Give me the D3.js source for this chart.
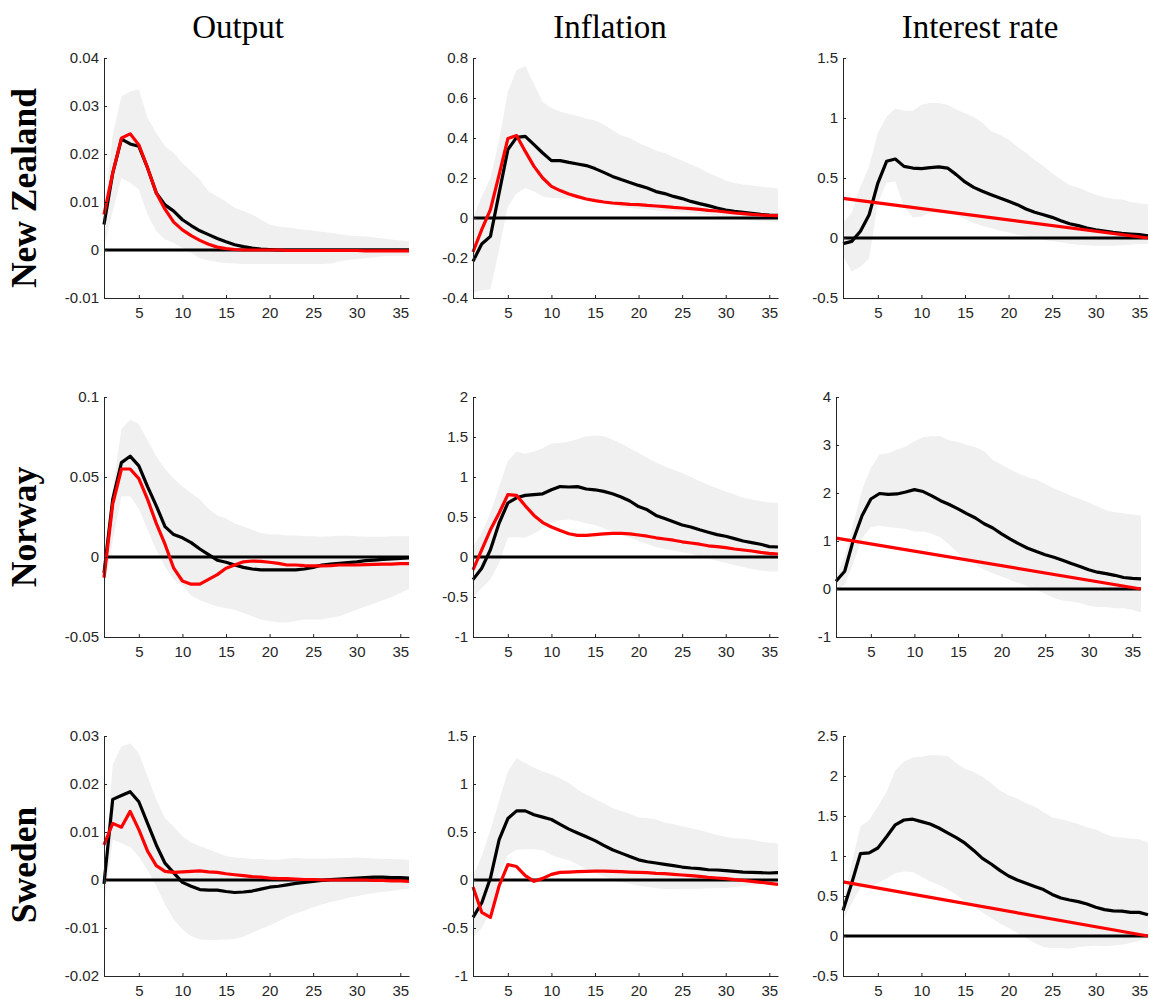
<!DOCTYPE html>
<html>
<head>
<meta charset="utf-8">
<script src="https://cdn.jsdelivr.net/npm/d3@7"></script>
<style>
  body { margin: 0; background: #fff; }
  svg { display: block; }
</style>
</head>
<body>
<div id="chart"></div>
<script>
// horizon (quarters) and labels
const periods = d3.range(1, 37);
const linePeriods = [1, 36];
const xTicks = [5, 10, 15, 20, 25, 30, 35];
const columnTitles = ["Output", "Inflation", "Interest rate"];
const rowTitles = ["New Zealand", "Norway", "Sweden"];

// y tick labels per panel
const nzOutputTicks = ["-0.01", "0", "0.01", "0.02", "0.03", "0.04"];
const nzInflationTicks = ["-0.4", "-0.2", "0", "0.2", "0.4", "0.6", "0.8"];
const nzRateTicks = ["-0.5", "0", "0.5", "1", "1.5"];
const noOutputTicks = ["-0.05", "0", "0.05", "0.1"];
const noInflationTicks = ["-1", "-0.5", "0", "0.5", "1", "1.5", "2"];
const noRateTicks = ["-1", "0", "1", "2", "3", "4"];
const seOutputTicks = ["-0.02", "-0.01", "0", "0.01", "0.02", "0.03"];
const seInflationTicks = ["-1", "-0.5", "0", "0.5", "1", "1.5"];
const seRateTicks = ["-0.5", "0", "0.5", "1", "1.5", "2", "2.5"];

// New Zealand
const nzOutputBvar = [0.0053, 0.016, 0.0231, 0.0221, 0.0216, 0.0171, 0.0119, 0.0094, 0.0081, 0.0063, 0.0051, 0.004, 0.0032, 0.0024, 0.0017, 0.0011, 0.0007, 0.0004, 0.0002, 0.0001, 0, 0, 0, 0, 0, 0, 0, 0, 0, 0, 0, 0, 0, 0, 0, 0];
const nzOutputModel = [0.0074, 0.016, 0.0233, 0.0242, 0.0219, 0.0171, 0.0119, 0.0085, 0.0058, 0.0042, 0.003, 0.002, 0.0012, 0.0006, 0.0003, 0.0001, 0, 0, 0, 0, 0, -0.0001, -0.0001, -0.0001, -0.0001, -0.0001, -0.0001, -0.0001, -0.0001, -0.0001, -0.0002, -0.0002, -0.0002, -0.0002, -0.0002, -0.0002];
const nzOutputHi = [0.007, 0.024, 0.032, 0.033, 0.0335, 0.0275, 0.0244, 0.0216, 0.0202, 0.0181, 0.0164, 0.0147, 0.0122, 0.0112, 0.0101, 0.0088, 0.0081, 0.0074, 0.0063, 0.0053, 0.0049, 0.0047, 0.0045, 0.0042, 0.004, 0.0038, 0.0036, 0.0033, 0.003, 0.0029, 0.0028, 0.0026, 0.0024, 0.0022, 0.002, 0.0019];
const nzOutputLo = [0.0005, 0.008, 0.015, 0.014, 0.0126, 0.0074, 0.0039, 0.0022, 0.0015, 0.0004, -0.0006, -0.0017, -0.0022, -0.0025, -0.0027, -0.0028, -0.0029, -0.0029, -0.0029, -0.0029, -0.0029, -0.0029, -0.0029, -0.0029, -0.0029, -0.0029, -0.0028, -0.0024, -0.0021, -0.0019, -0.0017, -0.0015, -0.0013, -0.0012, -0.0012, -0.0012];

const nzInflationBvar = [-0.217, -0.13, -0.092, 0.125, 0.342, 0.403, 0.408, 0.367, 0.325, 0.287, 0.287, 0.278, 0.27, 0.262, 0.247, 0.228, 0.208, 0.192, 0.178, 0.163, 0.15, 0.132, 0.122, 0.108, 0.097, 0.083, 0.072, 0.062, 0.05, 0.04, 0.033, 0.028, 0.023, 0.018, 0.015, 0.013];
const nzInflationModel = [-0.17, -0.058, 0.042, 0.217, 0.397, 0.412, 0.333, 0.258, 0.2, 0.158, 0.137, 0.12, 0.107, 0.095, 0.087, 0.08, 0.075, 0.072, 0.068, 0.067, 0.063, 0.06, 0.057, 0.053, 0.05, 0.047, 0.043, 0.038, 0.035, 0.03, 0.025, 0.022, 0.018, 0.015, 0.013, 0.012];
const nzInflationHi = [0.0, 0.108, 0.2, 0.39, 0.63, 0.74, 0.76, 0.67, 0.58, 0.55, 0.533, 0.52, 0.51, 0.497, 0.487, 0.467, 0.44, 0.413, 0.4, 0.375, 0.358, 0.338, 0.325, 0.305, 0.287, 0.267, 0.25, 0.225, 0.208, 0.188, 0.175, 0.167, 0.162, 0.157, 0.152, 0.147];
const nzInflationLo = [-0.375, -0.36, -0.358, -0.158, 0.058, 0.122, 0.15, 0.133, 0.108, 0.1, 0.098, 0.098, 0.098, 0.098, 0.083, 0.072, 0.062, 0.055, 0.05, 0.045, 0.042, 0.038, 0.035, 0.032, 0.028, 0.025, 0.02, 0.015, 0.008, 0.003, -0.003, -0.008, -0.012, -0.015, -0.018, -0.02];

const nzRateBvar = [-0.047, -0.028, 0.056, 0.194, 0.458, 0.639, 0.658, 0.597, 0.583, 0.578, 0.586, 0.592, 0.583, 0.528, 0.467, 0.422, 0.389, 0.361, 0.333, 0.306, 0.278, 0.242, 0.214, 0.194, 0.172, 0.144, 0.119, 0.103, 0.083, 0.069, 0.058, 0.047, 0.039, 0.033, 0.028, 0.019];
const nzRateModel = [0.33, 0];
const nzRateHi = [0.125, 0.21, 0.43, 0.6, 0.875, 1.01, 1.08, 1.06, 1.06, 1.11, 1.125, 1.125, 1.11, 1.07, 1.04, 1.01, 0.96, 0.89, 0.86, 0.82, 0.76, 0.71, 0.65, 0.6, 0.54, 0.49, 0.44, 0.42, 0.39, 0.36, 0.34, 0.325, 0.32, 0.3, 0.29, 0.28];
const nzRateLo = [-0.15, -0.28, -0.24, -0.17, 0.29, 0.46, 0.47, 0.26, 0.17, 0.18, 0.21, 0.21, 0.2, 0.19, 0.16, 0.125, 0.1, 0.083, 0.06, 0.047, 0.028, 0.014, 0, -0.014, -0.028, -0.036, -0.047, -0.056, -0.06, -0.064, -0.064, -0.064, -0.06, -0.056, -0.05, -0.047];

// Norway
const noOutputBvar = [-0.010, 0.036, 0.059, 0.063, 0.057, 0.044, 0.032, 0.019, 0.014, 0.012, 0.009, 0.005, 0.0015, -0.002, -0.0033, -0.005, -0.0065, -0.0075, -0.008, -0.008, -0.008, -0.008, -0.008, -0.0075, -0.0065, -0.005, -0.0044, -0.004, -0.0035, -0.003, -0.0023, -0.0019, -0.0015, -0.0012, -0.0008, -0.0006];
const noOutputModel = [-0.013, 0.033, 0.055, 0.055, 0.049, 0.036, 0.021, 0.008, -0.007, -0.015, -0.017, -0.017, -0.014, -0.011, -0.007, -0.005, -0.003, -0.0025, -0.0027, -0.0033, -0.004, -0.005, -0.005, -0.0054, -0.0056, -0.0056, -0.0054, -0.005, -0.005, -0.005, -0.0048, -0.0046, -0.0044, -0.0044, -0.0042, -0.0042];
const noOutputHi = [0.002, 0.042, 0.08, 0.086, 0.083, 0.073, 0.063, 0.055, 0.049, 0.044, 0.04, 0.036, 0.03, 0.026, 0.024, 0.021, 0.019, 0.017, 0.015, 0.014, 0.014, 0.0135, 0.0135, 0.013, 0.013, 0.0127, 0.013, 0.0133, 0.0133, 0.013, 0.0127, 0.0127, 0.0127, 0.013, 0.013, 0.013];
const noOutputLo = [-0.02, 0.01, 0.038, 0.038, 0.03, 0.017, 0.0046, -0.006, -0.014, -0.018, -0.024, -0.027, -0.029, -0.031, -0.032, -0.033, -0.035, -0.037, -0.039, -0.040, -0.041, -0.041, -0.040, -0.039, -0.039, -0.039, -0.038, -0.037, -0.035, -0.033, -0.031, -0.029, -0.027, -0.025, -0.0225, -0.02];

const noInflationBvar = [-0.283, -0.14, 0.09, 0.425, 0.675, 0.74, 0.77, 0.78, 0.79, 0.84, 0.88, 0.875, 0.88, 0.85, 0.84, 0.82, 0.79, 0.75, 0.7, 0.63, 0.59, 0.52, 0.48, 0.44, 0.4, 0.375, 0.34, 0.31, 0.28, 0.26, 0.23, 0.2, 0.18, 0.16, 0.13, 0.125];
const noInflationModel = [-0.16, 0.09, 0.34, 0.55, 0.78, 0.77, 0.64, 0.52, 0.43, 0.375, 0.33, 0.29, 0.27, 0.27, 0.28, 0.29, 0.296, 0.296, 0.29, 0.275, 0.26, 0.24, 0.225, 0.21, 0.19, 0.175, 0.16, 0.14, 0.13, 0.117, 0.1, 0.0875, 0.075, 0.058, 0.046, 0.0375];
const noInflationHi = [0.13, 0.3, 0.55, 0.88, 1.2, 1.32, 1.29, 1.32, 1.36, 1.42, 1.425, 1.44, 1.475, 1.51, 1.52, 1.51, 1.47, 1.42, 1.36, 1.3, 1.24, 1.18, 1.13, 1.09, 1.05, 1.0, 0.95, 0.9, 0.86, 0.82, 0.78, 0.74, 0.72, 0.7, 0.68, 0.675];
const noInflationLo = [-0.51, -0.39, -0.28, -0.075, 0.24, 0.25, 0.24, 0.29, 0.36, 0.425, 0.46, 0.47, 0.45, 0.42, 0.4, 0.36, 0.32, 0.29, 0.24, 0.2, 0.16, 0.125, 0.1, 0.08, 0.06, 0.04, 0.008, -0.02, -0.046, -0.075, -0.1, -0.125, -0.15, -0.17, -0.18, -0.18];

const noRateBvar = [0.16, 0.37, 1.03, 1.53, 1.875, 1.99, 1.97, 1.98, 2.02, 2.07, 2.03, 1.94, 1.84, 1.76, 1.67, 1.57, 1.48, 1.36, 1.27, 1.15, 1.04, 0.94, 0.85, 0.78, 0.715, 0.66, 0.6, 0.53, 0.47, 0.4, 0.35, 0.32, 0.285, 0.24, 0.22, 0.21];
const noRateModel = [1.06, 0];
const noRateHi = [0.26, 0.68, 1.375, 2.07, 2.52, 2.8, 2.83, 2.9, 2.97, 3.08, 3.16, 3.19, 3.18, 3.1, 3.06, 3.0, 2.96, 2.87, 2.69, 2.59, 2.49, 2.4, 2.33, 2.28, 2.19, 2.1, 2.02, 1.94, 1.875, 1.8, 1.72, 1.64, 1.6, 1.58, 1.55, 1.53];
const noRateLo = [-0.01, 0.09, 0.54, 1.06, 1.29, 1.32, 1.29, 1.27, 1.25, 1.2, 1.2, 1.15, 1.08, 0.92, 0.75, 0.61, 0.51, 0.4, 0.33, 0.26, 0.19, 0.125, 0.055, -0.014, -0.1, -0.19, -0.24, -0.26, -0.29, -0.35, -0.375, -0.375, -0.4, -0.4, -0.43, -0.49];

// Sweden
const seOutputBvar = [-0.0008, 0.0168, 0.0176, 0.0184, 0.0163, 0.0118, 0.0073, 0.0035, 0.0015, -0.0005, -0.0013, -0.002, -0.0021, -0.0021, -0.0024, -0.0026, -0.0025, -0.0023, -0.0019, -0.0015, -0.0013, -0.001, -0.0007, -0.0005, -0.0003, -0.0001, 0.0001, 0.0002, 0.0003, 0.0004, 0.0005, 0.0006, 0.0006, 0.0005, 0.0005, 0.0004];
const seOutputModel = [0.0073, 0.0118, 0.011, 0.0143, 0.0105, 0.006, 0.003, 0.0018, 0.0016, 0.0017, 0.0018, 0.0019, 0.0017, 0.0016, 0.0013, 0.0011, 0.0009, 0.0007, 0.0006, 0.0004, 0.0003, 0.0003, 0.0002, 0.0001, 0.0001, 0, 0, 0, 0, 0, 0, -0.0001, -0.0001, -0.0002, -0.0002, -0.0003];
const seOutputHi = [0.0005, 0.024, 0.0278, 0.0285, 0.0264, 0.0215, 0.0167, 0.0129, 0.0111, 0.0091, 0.0078, 0.0071, 0.0064, 0.0057, 0.005, 0.0047, 0.0046, 0.0044, 0.0044, 0.0042, 0.0042, 0.0045, 0.0046, 0.0045, 0.0045, 0.0045, 0.0045, 0.0046, 0.0046, 0.0047, 0.0046, 0.0045, 0.0044, 0.0044, 0.0043, 0.0042];
const seOutputLo = [-0.006, 0.0084, 0.0077, 0.0069, 0.0049, 0.0021, -0.0013, -0.0051, -0.0082, -0.0103, -0.0117, -0.0124, -0.0125, -0.0125, -0.0124, -0.0123, -0.0118, -0.011, -0.0102, -0.0095, -0.0086, -0.0077, -0.007, -0.0064, -0.0057, -0.0051, -0.0046, -0.0042, -0.0037, -0.0034, -0.003, -0.0027, -0.0025, -0.0023, -0.002, -0.0019];

const seInflationBvar = [-0.39, -0.24, 0.02, 0.42, 0.64, 0.72, 0.72, 0.68, 0.655, 0.63, 0.58, 0.53, 0.49, 0.45, 0.41, 0.36, 0.315, 0.28, 0.246, 0.21, 0.19, 0.177, 0.163, 0.149, 0.135, 0.125, 0.118, 0.107, 0.104, 0.097, 0.09, 0.083, 0.08, 0.076, 0.073, 0.076];
const seInflationModel = [-0.073, -0.336, -0.39, -0.06, 0.16, 0.14, 0.045, -0.014, 0.017, 0.059, 0.08, 0.083, 0.087, 0.09, 0.093, 0.093, 0.09, 0.087, 0.083, 0.08, 0.076, 0.069, 0.066, 0.059, 0.052, 0.045, 0.038, 0.028, 0.021, 0.014, 0.003, -0.003, -0.014, -0.024, -0.035, -0.045];
const seInflationHi = [0.04, 0.25, 0.52, 0.83, 1.13, 1.27, 1.22, 1.17, 1.13, 1.1, 1.06, 1.01, 0.94, 0.89, 0.845, 0.8, 0.75, 0.72, 0.69, 0.65, 0.645, 0.63, 0.6, 0.58, 0.56, 0.54, 0.52, 0.495, 0.47, 0.45, 0.435, 0.43, 0.42, 0.4, 0.39, 0.38];
const seInflationLo = [-0.6, -0.5, -0.325, 0.04, 0.26, 0.315, 0.32, 0.32, 0.31, 0.26, 0.23, 0.205, 0.16, 0.114, 0.073, 0.038, 0.003, -0.02, -0.04, -0.06, -0.073, -0.083, -0.093, -0.093, -0.09, -0.09, -0.09, -0.087, -0.087, -0.083, -0.073, -0.066, -0.055, -0.045, -0.038, -0.031];

const seRateBvar = [0.32, 0.66, 1.03, 1.04, 1.1, 1.24, 1.39, 1.45, 1.46, 1.43, 1.4, 1.35, 1.29, 1.23, 1.16, 1.07, 0.97, 0.9, 0.82, 0.75, 0.7, 0.66, 0.62, 0.58, 0.52, 0.475, 0.45, 0.43, 0.4, 0.36, 0.33, 0.315, 0.31, 0.295, 0.295, 0.266];
const seRateModel = [0.677, 0];
const seRateHi = [0.41, 0.91, 1.37, 1.45, 1.62, 1.8, 2.07, 2.18, 2.23, 2.24, 2.26, 2.26, 2.25, 2.16, 2.09, 2.05, 1.99, 1.91, 1.82, 1.76, 1.72, 1.66, 1.62, 1.55, 1.48, 1.46, 1.43, 1.4, 1.36, 1.33, 1.28, 1.24, 1.23, 1.22, 1.21, 1.17];
const seRateLo = [0.2, 0.41, 0.6, 0.62, 0.66, 0.72, 0.785, 0.805, 0.8, 0.74, 0.68, 0.64, 0.585, 0.515, 0.43, 0.37, 0.295, 0.225, 0.16, 0.1, 0.037, -0.025, -0.087, -0.137, -0.15, -0.15, -0.16, -0.137, -0.129, -0.12, -0.129, -0.12, -0.108, -0.087, -0.058, -0.025];

const panels = [
  { row: 0, col: 0, ticks: nzOutputTicks, bvar: nzOutputBvar, model: nzOutputModel, hi: nzOutputHi, lo: nzOutputLo },
  { row: 0, col: 1, ticks: nzInflationTicks, bvar: nzInflationBvar, model: nzInflationModel, hi: nzInflationHi, lo: nzInflationLo },
  { row: 0, col: 2, ticks: nzRateTicks, bvar: nzRateBvar, model: nzRateModel, hi: nzRateHi, lo: nzRateLo },
  { row: 1, col: 0, ticks: noOutputTicks, bvar: noOutputBvar, model: noOutputModel, hi: noOutputHi, lo: noOutputLo },
  { row: 1, col: 1, ticks: noInflationTicks, bvar: noInflationBvar, model: noInflationModel, hi: noInflationHi, lo: noInflationLo },
  { row: 1, col: 2, ticks: noRateTicks, bvar: noRateBvar, model: noRateModel, hi: noRateHi, lo: noRateLo },
  { row: 2, col: 0, ticks: seOutputTicks, bvar: seOutputBvar, model: seOutputModel, hi: seOutputHi, lo: seOutputLo },
  { row: 2, col: 1, ticks: seInflationTicks, bvar: seInflationBvar, model: seInflationModel, hi: seInflationHi, lo: seInflationLo },
  { row: 2, col: 2, ticks: seRateTicks, bvar: seRateBvar, model: seRateModel, hi: seRateHi, lo: seRateLo }
];

const width = 1150;
const height = 999;
const colLeft = [104, 473, 843];
const rowTop = [58, 397, 736];
const plotW = 305;
const plotH = 240;
const axisColor = "#262626";

const svg = d3
  .select("#chart")
  .append("svg")
  .attr("width", width)
  .attr("height", height)
  .style("background", "#fff");

panels.forEach((p) => {
  // the Norway interest-rate panel sits a little to the left (short tick labels)
  const left = colLeft[p.col] - (p.row === 1 && p.col === 2 ? 7 : 0);
  const g = svg.append("g").attr("transform", `translate(${left},${rowTop[p.row]})`);

  const tickVals = p.ticks.map(Number);
  const x = d3.scaleLinear().domain([1, 36]).range([0, plotW]);
  const y = d3
    .scaleLinear()
    .domain([tickVals[0], tickVals[tickVals.length - 1]])
    .range([plotH, 0]);

  const band = d3
    .area()
    .x((d, i) => x(periods[i]))
    .y0((d, i) => y(p.lo[i]))
    .y1((d, i) => y(p.hi[i]));

  g.append("path").datum(p.hi).attr("d", band).attr("fill", "#f0f0f0").attr("stroke", "none");

  g.append("line")
    .attr("x1", x(1))
    .attr("x2", x(36))
    .attr("y1", y(0))
    .attr("y2", y(0))
    .attr("stroke", "#000")
    .attr("stroke-width", 3.2);

  const line = d3
    .line()
    .x((d) => x(d[0]))
    .y((d) => y(d[1]));

  g.append("path")
    .datum(periods.map((t, i) => [t, p.bvar[i]]))
    .attr("d", line)
    .attr("fill", "none")
    .attr("stroke", "#000")
    .attr("stroke-width", 3.2)
    .attr("stroke-linejoin", "round");

  const modelX = p.model.length === 2 ? linePeriods : periods;
  g.append("path")
    .datum(modelX.map((t, i) => [t, p.model[i]]))
    .attr("d", line)
    .attr("fill", "none")
    .attr("stroke", "#ff0000")
    .attr("stroke-width", 3.2)
    .attr("stroke-linejoin", "round");

  const yAxis = g
    .append("g")
    .call(
      d3.axisLeft(y)
        .tickValues(tickVals)
        .tickFormat((d, i) => p.ticks[i])
        .tickSizeInner(-3)
        .tickSizeOuter(0)
        .tickPadding(5)
    );

  const xAxis = g
    .append("g")
    .attr("transform", `translate(0,${plotH})`)
    .call(
      d3.axisBottom(x)
        .tickValues(xTicks)
        .tickFormat((d) => d)
        .tickSizeInner(-3)
        .tickSizeOuter(0)
        .tickPadding(9)
    );

  [yAxis, xAxis].forEach((a) => {
    a.select(".domain").attr("stroke", axisColor).attr("stroke-width", 1);
    a.selectAll(".tick line").attr("stroke", axisColor);
    a.selectAll("text")
      .attr("fill", axisColor)
      .style("font-family", "'Liberation Sans', Arial, sans-serif")
      .style("font-size", "15px");
  });
});

// column titles
const titleCenter = [238, 610, 980];
svg
  .selectAll(".col-title")
  .data(columnTitles)
  .enter()
  .append("text")
  .attr("class", "col-title")
  .attr("x", (d, i) => titleCenter[i])
  .attr("y", 38)
  .attr("text-anchor", "middle")
  .style("font-family", "'Liberation Serif', 'DejaVu Serif', serif")
  .style("font-size", "33px")
  .text((d) => d);

// row titles
const rowCenter = [188, 527, 865];
svg
  .selectAll(".row-title")
  .data(rowTitles)
  .enter()
  .append("text")
  .attr("class", "row-title")
  .attr("transform", (d, i) => `translate(36,${rowCenter[i]}) rotate(-90)`)
  .attr("text-anchor", "middle")
  .style("font-family", "'Liberation Serif', 'DejaVu Serif', serif")
  .style("font-weight", "bold")
  .style("font-size", "35.5px")
  .text((d) => d);
</script>
</body>
</html>
